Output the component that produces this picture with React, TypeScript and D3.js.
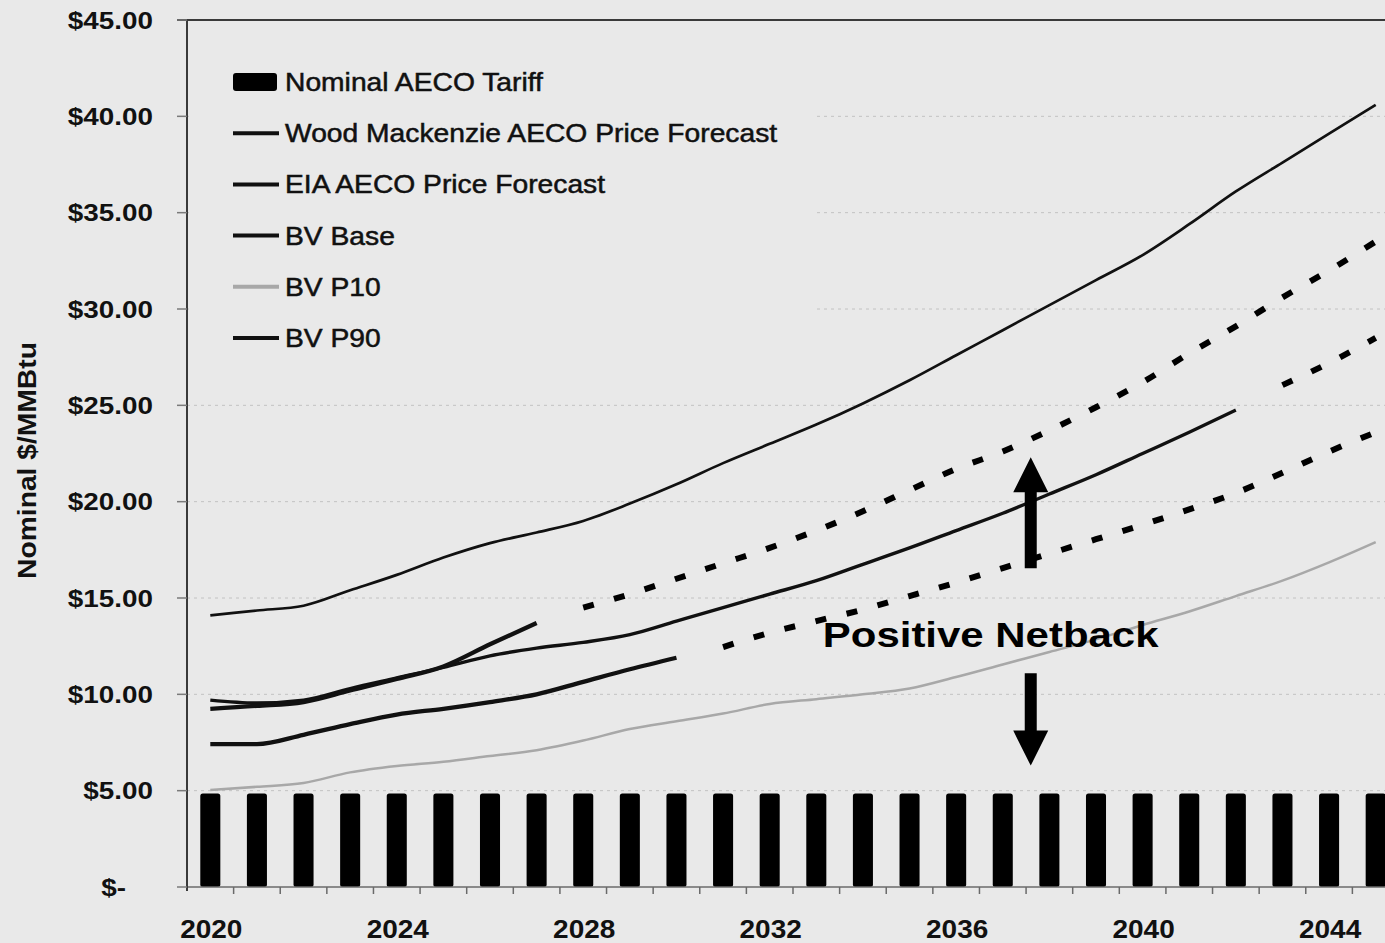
import React from "react";
import * as d3 from "d3";

// ---- Data -----------------------------------------------------------------
const years = [
  2020, 2021, 2022, 2023, 2024, 2025, 2026, 2027, 2028, 2029, 2030, 2031, 2032,
  2033, 2034, 2035, 2036, 2037, 2038, 2039, 2040, 2041, 2042, 2043, 2044, 2045,
];

// Nominal AECO tariff ($/MMBtu), one bar per year
const tariff = [
  4.85, 4.85, 4.85, 4.85, 4.85, 4.85, 4.85, 4.85, 4.85, 4.85, 4.85, 4.85, 4.85,
  4.85, 4.85, 4.85, 4.85, 4.85, 4.85, 4.85, 4.85, 4.85, 4.85, 4.85, 4.85, 4.85,
];

// BV P90 (2020-2045)
const bvP90 = [
  14.1, 14.35, 14.6, 15.4, 16.2, 17.1, 17.85, 18.4, 19.0, 19.9, 20.9, 22.0, 23.0,
  24.0, 25.1, 26.3, 27.6, 28.9, 30.2, 31.5, 32.8, 34.4, 36.1, 37.6, 39.1, 40.6,
];

// BV P10 (2020-2045)
const bvP10 = [
  5.03, 5.2, 5.4, 5.95, 6.28, 6.5, 6.8, 7.1, 7.6, 8.2, 8.6, 9.0, 9.5, 9.75,
  10.0, 10.3, 10.9, 11.55, 12.2, 12.85, 13.6, 14.3, 15.1, 15.9, 16.85, 17.9,
];

// BV Base (2020-2042)
const bvBaseYears = years.slice(0, 23);
const bvBase = [
  9.7, 9.55, 9.7, 10.3, 10.85, 11.4, 12.0, 12.4, 12.7, 13.1, 13.8, 14.5, 15.2,
  15.9, 16.75, 17.6, 18.5, 19.4, 20.4, 21.4, 22.5, 23.6, 24.75,
];

// Wood Mackenzie AECO price forecast (2020-2027)
const wmYears = years.slice(0, 8);
const wmForecast = [9.25, 9.4, 9.6, 10.2, 10.8, 11.45, 12.6, 13.7];

// EIA AECO price forecast (2020-2030)
const eiaYears = years.slice(0, 11);
const eiaForecast = [7.42, 7.42, 7.9, 8.45, 8.95, 9.25, 9.6, 10.0, 10.65, 11.3, 11.9];

// Dashed trend extensions
const wmTrendYears = years.slice(8);
const wmTrend = [
  14.5, 15.2, 16.0, 16.8, 17.6, 18.5, 19.5, 20.6, 21.7, 22.6, 23.7, 24.9, 26.2,
  27.7, 29.1, 30.6, 32.0, 33.5,
];
const eiaTrendYears = years.slice(11);
const eiaTrend = [
  12.45, 13.2, 13.8, 14.4, 15.1, 15.8, 16.55, 17.3, 18.05, 18.8, 19.6, 20.45,
  21.5, 22.6, 23.6,
];
const baseTrendYears = years.slice(23);
const baseTrend = [26.05, 27.2, 28.5];

// Axis ticks
const yTicks = [0, 5, 10, 15, 20, 25, 30, 35, 40, 45];
const xLabelYears = [2020, 2024, 2028, 2032, 2036, 2040, 2044];

const legendItems = [
  { name: "Nominal AECO Tariff", kind: "bar", color: "#000" },
  { name: "Wood Mackenzie AECO Price Forecast", kind: "line", color: "#111" },
  { name: "EIA AECO Price Forecast", kind: "line", color: "#111" },
  { name: "BV Base", kind: "line", color: "#111" },
  { name: "BV P10", kind: "line", color: "#a8a8a8" },
  { name: "BV P90", kind: "line", color: "#111" },
];

// Netback annotation anchor (year, value)
const netbackYear = 2037.6;
const netbackUp = [16.55, 22.3];
const netbackDown = [11.1, 6.3];
const netbackLabel = { year: 2036.74, value: 12.45, text: "Positive Netback" };

// ---- Chart ----------------------------------------------------------------
const W = 1385;
const H = 943;
const FONT = "'Liberation Sans', Arial, Helvetica, sans-serif";
const BG = "#e9e9e9";

export default function App() {
  const x = d3.scaleLinear().domain([2019.5, 2045.5]).range([187, 1399]);
  const y = d3.scaleLinear().domain([0, 45]).range([887, 20]);
  const step = x(1) - x(0);
  const barW = step * 0.43;

  const line = d3
    .line<[number, number]>()
    .x((d) => x(d[0]))
    .y((d) => y(d[1]))
    .curve(d3.curveMonotoneX);
  const pts = (xs: number[], vs: number[]) =>
    xs.map((yr, i) => [yr, vs[i]] as [number, number]);

  const fmt = (v: number) => (v === 0 ? "$-" : d3.format("$.2f")(v));

  const legendX = 233;
  const legendY0 = 82;
  const legendStep = 51.2;

  const ax = x(netbackYear);
  const shaftW = 12;
  const headW = 35;
  const headL = 35;
  const upBase = y(netbackUp[0]);
  const upTip = y(netbackUp[1]);
  const downBase = y(netbackDown[0]);
  const downTip = y(netbackDown[1]);

  return (
    <svg
      width={W}
      height={H}
      style={{ position: "absolute", left: 0, top: 0, background: BG }}
      fontFamily={FONT}
    >
      <rect x={0} y={0} width={W} height={H} fill={BG} />

      {/* gridlines */}
      {yTicks
        .filter((t) => t > 0 && t < 45)
        .map((t) => (
          <line
            key={"g" + t}
            x1={x.range()[0]}
            x2={W}
            y1={y(t)}
            y2={y(t)}
            stroke="#c2c2c2"
            strokeWidth={1}
            strokeDasharray="3 4"
          />
        ))}

      {/* legend backdrop */}
      <rect x={189} y={40} width={626} height={320} fill={BG} />

      {/* tariff bars */}
      {years.map((yr, i) => (
        <rect
          key={"b" + yr}
          x={x(yr) - barW / 2}
          y={y(tariff[i])}
          width={barW}
          height={y(0) - y(tariff[i])}
          rx={2.5}
          fill="#000"
        />
      ))}

      {/* axes */}
      <line x1={x.range()[0]} x2={W} y1={y(0)} y2={y(0)} stroke="#6a6a6a" strokeWidth={1.5} />
      {years.map((yr) => (
        <line
          key={"xt" + yr}
          x1={x(yr) + step / 2}
          x2={x(yr) + step / 2}
          y1={y(0)}
          y2={y(0) + 7}
          stroke="#6a6a6a"
          strokeWidth={1.5}
        />
      ))}
      <line x1={x.range()[0]} x2={x.range()[0]} y1={y(45)} y2={y(0) + 4} stroke="#3a3a3a" strokeWidth={2} />
      <line x1={177} x2={W} y1={y(45)} y2={y(45)} stroke="#3a3a3a" strokeWidth={2} />
      {yTicks.map((t) => (
        <line key={"yt" + t} x1={177} x2={187} y1={y(t)} y2={y(t)} stroke="#7a7a7a" strokeWidth={1.5} />
      ))}

      {/* y tick labels */}
      {yTicks.map((t) => (
        <text
          key={"yl" + t}
          transform={`translate(${t === 0 ? 126 : 153},${y(t) + 8.5}) scale(1.16,1)`}
          textAnchor="end"
          fontSize={24}
          fontWeight="bold"
          fill="#111"
        >
          {fmt(t)}
        </text>
      ))}

      {/* x labels */}
      {xLabelYears.map((yr) => (
        <text
          key={"xl" + yr}
          transform={`translate(${x(yr) + 1},${938}) scale(1.12,1)`}
          textAnchor="middle"
          fontSize={25}
          fontWeight="bold"
          fill="#111"
        >
          {yr}
        </text>
      ))}

      {/* axis title */}
      <text
        transform={`translate(36,${(y(45) + y(0)) / 2 + 7}) rotate(-90) scale(1.13,1)`}
        textAnchor="middle"
        fontSize={25}
        fontWeight="bold"
        fill="#111"
      >
        Nominal $/MMBtu
      </text>

      {/* series lines */}
      <path d={line(pts(years, bvP10)) || ""} fill="none" stroke="#a8a8a8" strokeWidth={2.5} />
      <path d={line(pts(eiaYears, eiaForecast)) || ""} fill="none" stroke="#111" strokeWidth={4.3} />
      <path d={line(pts(bvBaseYears, bvBase)) || ""} fill="none" stroke="#111" strokeWidth={3.4} />
      <path d={line(pts(wmYears, wmForecast)) || ""} fill="none" stroke="#111" strokeWidth={4.3} />
      <path d={line(pts(years, bvP90)) || ""} fill="none" stroke="#111" strokeWidth={2.7} />

      {/* dashed trend extensions */}
      {[
        pts(wmTrendYears, wmTrend),
        pts(eiaTrendYears, eiaTrend),
        pts(baseTrendYears, baseTrend),
      ].map((p, i) => (
        <path
          key={"tr" + i}
          d={line(p) || ""}
          fill="none"
          stroke="#000"
          strokeWidth={6}
          strokeDasharray="11 21"
        />
      ))}

      {/* netback arrows */}
      <path
        d={`M${ax - shaftW / 2},${upBase} L${ax - shaftW / 2},${upTip + headL} L${ax - headW / 2},${upTip + headL} L${ax},${upTip} L${ax + headW / 2},${upTip + headL} L${ax + shaftW / 2},${upTip + headL} L${ax + shaftW / 2},${upBase} Z`}
        fill="#000"
      />
      <path
        d={`M${ax - shaftW / 2},${downBase} L${ax - shaftW / 2},${downTip - headL} L${ax - headW / 2},${downTip - headL} L${ax},${downTip} L${ax + headW / 2},${downTip - headL} L${ax + shaftW / 2},${downTip - headL} L${ax + shaftW / 2},${downBase} Z`}
        fill="#000"
      />
      <text
        transform={`translate(${x(netbackLabel.year)},${y(netbackLabel.value)}) scale(1.165,1)`}
        textAnchor="middle"
        fontSize={36}
        fontWeight="bold"
        fill="#000"
      >
        {netbackLabel.text}
      </text>

      {/* legend */}
      {legendItems.map((it, i) => {
        const cy = legendY0 + i * legendStep;
        return (
          <g key={"lg" + i}>
            {it.kind === "bar" ? (
              <rect x={legendX} y={cy - 9} width={44} height={18} rx={3} fill={it.color} />
            ) : (
              <line
                x1={legendX}
                x2={legendX + 46}
                y1={cy}
                y2={cy}
                stroke={it.color}
                strokeWidth={4}
              />
            )}
            <text
              transform={`translate(${legendX + 52},${cy + 9}) scale(1.13,1)`}
              fontSize={25}
              fill="#111"
              stroke="#111"
              strokeWidth={0.5}
            >
              {it.name}
            </text>
          </g>
        );
      })}
    </svg>
  );
}
